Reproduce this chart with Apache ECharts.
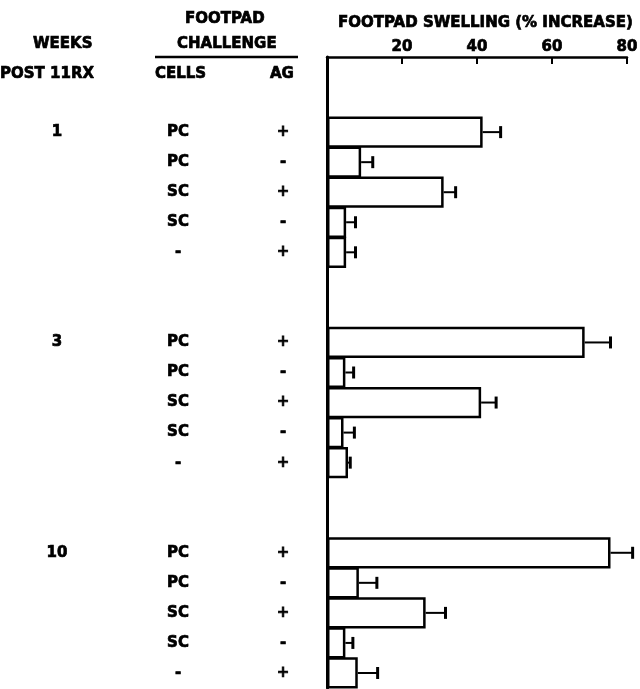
<!DOCTYPE html>
<html>
<head>
<meta charset="utf-8">
<script src="https://cdn.jsdelivr.net/npm/echarts@6/dist/echarts.min.js"></script>
<style>
html,body{margin:0;padding:0;background:#fff;}
#chart{width:640px;height:689px;}
</style>
</head>
<body>
<div id="chart"></div>
<script>
// ---- data ----
const weeks = ['1', '3', '10'];
const cells = ['PC', 'PC', 'SC', 'SC', '-'];
const ag = ['+', '-', '+', '-', '+'];
const swelling1 = [41.5, 9.1, 31.1, 5.1, 5.1];
const swelling3 = [68.7, 4.9, 41.1, 4.4, 5.6];
const swelling10 = [75.6, 8.5, 26.3, 4.9, 8.2];
const error1 = [4.8, 3.1, 3.2, 2.5, 2.5];
const error3 = [6.9, 2.2, 4.0, 2.9, 0.6];
const error10 = [5.9, 4.8, 5.3, 2.0, 5.3];
const xTickValues = [20, 40, 60, 80];

// ---- build the category slots (2 blank slots before each group) ----
const groups = [swelling1, swelling3, swelling10];
const groupErrors = [error1, error3, error10];
const slots = [], weekLabels = [], cellLabels = [], agLabels = [], barData = [], errData = [];
groups.forEach((vals, g) => {
  for (let k = 0; k < 2; k++) {
    slots.push('gap' + g + k); weekLabels.push(''); cellLabels.push(''); agLabels.push(''); barData.push('-');
  }
  vals.forEach((v, r) => {
    const idx = slots.length;
    slots.push('g' + g + 'r' + r);
    weekLabels.push(r === 0 ? weeks[g] : '');
    cellLabels.push(cells[r]);
    agLabels.push(ag[r]);
    barData.push(v);
    errData.push([v, groupErrors[g][r], idx]);
  });
});

const FONT = 'DejaVu Sans';
const lblStyle = { color: '#000', fontFamily: FONT, fontWeight: 'bold', fontSize: 15,
  textBorderColor: '#000', textBorderWidth: 0.7 };

function catAxis(labels, margin, showLine) {
  return {
    type: 'category', inverse: true, position: 'left', offset: 0,
    data: slots.slice(),
    axisLine: { show: showLine, onZero: false, lineStyle: { color: '#000', width: 3 } },
    axisTick: { show: false },
    splitLine: { show: false },
    axisLabel: Object.assign({ margin: margin, align: 'center', verticalAlign: 'middle', interval: 0,
      padding: [3, 0, 0, 0],
      formatter: (val, i) => labels[i] }, lblStyle)
  };
}

const chart = echarts.init(document.getElementById('chart'), null, { renderer: 'canvas' });
const titleStyle = { color: '#000', fontFamily: FONT, fontWeight: 'bold', fontSize: 15, lineHeight: 15,
  textBorderColor: '#000', textBorderWidth: 0.7 };
function t(text, left, top) { return { text, left, top, padding: 0, textStyle: titleStyle }; }

chart.setOption({
  backgroundColor: '#fff',
  animation: false,
  title: [
    t('FOOTPAD SWELLING (% INCREASE)', 338, 16),
    t('WEEKS', 33, 37),
    t('POST 11RX', 0, 67),
    t('FOOTPAD', 185, 12),
    t('CHALLENGE', 177, 37),
    t('CELLS', 155, 67),
    t('AG', 270, 67)
  ],
  graphic: [
    { type: 'line', shape: { x1: 155, y1: 57, x2: 298, y2: 57 }, style: { stroke: '#000', lineWidth: 2.5 } }
  ],
  grid: { left: 327, right: 13, top: 57, bottom: 1, containLabel: false, outerBoundsMode: 'none' },
  xAxis: {
    type: 'value', position: 'top', min: 0, max: 80, interval: 20,
    axisLine: { show: true, onZero: false, lineStyle: { color: '#000', width: 2.5 } },
    axisTick: { show: true, inside: true, length: 7, lineStyle: { color: '#000', width: 2 } },
    splitLine: { show: false },
    axisLabel: Object.assign({ margin: 2,
      formatter: v => (xTickValues.indexOf(v) >= 0 ? String(v) : '') }, lblStyle)
  },
  yAxis: [
    catAxis(agLabels, 44, true),
    catAxis(cellLabels, 149, false),
    catAxis(weekLabels, 270, false)
  ],
  series: [
    {
      type: 'bar', yAxisIndex: 0, data: barData, barWidth: '104%', barCategoryGap: '0%',
      itemStyle: { color: '#fff', borderColor: '#000', borderWidth: 2.5 },
      z: 3
    },
    {
      type: 'custom', yAxisIndex: 0, data: errData,
      encode: { x: 0, y: 2 },
      z: 2,
      renderItem: function (params, api) {
        const v = api.value(0), e = api.value(1), i = api.value(2);
        const p0 = api.coord([v, i]);
        const p1 = api.coord([v + e, i]);
        return {
          type: 'group',
          children: [
            { type: 'line', shape: { x1: p0[0], y1: p0[1], x2: p1[0], y2: p1[1] }, style: { stroke: '#000', lineWidth: 2 } },
            { type: 'line', shape: { x1: p1[0], y1: p1[1] - 6, x2: p1[0], y2: p1[1] + 6 }, style: { stroke: '#000', lineWidth: 3 } }
          ]
        };
      }
    }
  ]
});
</script>
</body>
</html>
